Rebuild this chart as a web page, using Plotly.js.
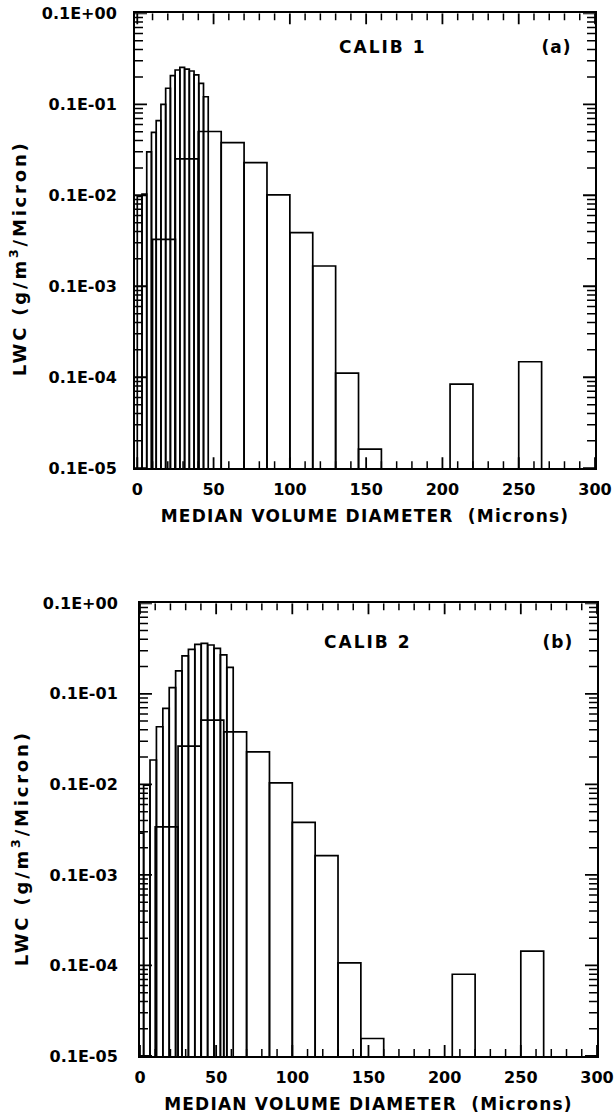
<!DOCTYPE html>
<html>
<head>
<meta charset="utf-8">
<script src="https://cdn.plot.ly/plotly-3.0.1.min.js"></script>
<style>html,body{margin:0;padding:0;background:#fff;}#chart{width:615px;height:1117px;}</style>
</head>
<body>
<div id="chart"></div>
<script>
// ---- data (median volume diameter in microns, LWC per micron) ----
// CALIB 1, fine-resolution bins
const calib1FineX = [1.55, 4.65, 7.75, 10.85, 13.95, 17.05, 20.15, 23.25, 26.35, 29.45, 32.55, 35.65, 38.75, 41.85, 44.95];
const calib1FineW = [3.1, 3.1, 3.1, 3.1, 3.1, 3.1, 3.1, 3.1, 3.1, 3.1, 3.1, 3.1, 3.1, 3.1, 3.1];
const calib1FineY = [9.7e-4, 1.03e-3, 3.0e-3, 4.9e-3, 6.6e-3, 1.0e-2, 1.5e-2, 2.06e-2, 2.38e-2, 2.55e-2, 2.44e-2, 2.32e-2, 2.1e-2, 1.7e-2, 1.21e-2];
// coarse bins (same bin layout in both panels)
const coarseX = [17.5, 32.5, 47.5, 62.5, 77.5, 92.5, 107.5, 122.5, 137.5, 152.5, 212.5, 257.5];
const coarseW = [15, 15, 15, 15, 15, 15, 15, 15, 15, 15, 15, 15];
const calib1CoarseY = [3.28e-4, 2.51e-3, 5.02e-3, 3.79e-3, 2.28e-3, 1.01e-3, 3.88e-4, 1.67e-4, 1.11e-5, 1.62e-6, 8.4e-6, 1.48e-5];
// CALIB 2, fine-resolution bins
const calib2FineX = [0.3, 4.5, 8.7, 12.9, 17.1, 21.3, 25.5, 29.7, 33.9, 38.1, 42.3, 46.5, 50.7, 54.9, 59.1];
const calib2FineW = [4.2, 4.2, 4.2, 4.2, 4.2, 4.2, 4.2, 4.2, 4.2, 4.2, 4.2, 4.2, 4.2, 4.2, 4.2];
const calib2FineY = [2.9e-4, 9.8e-4, 1.86e-3, 4.33e-3, 6.91e-3, 1.17e-2, 1.79e-2, 2.62e-2, 3.10e-2, 3.52e-2, 3.61e-2, 3.46e-2, 3.18e-2, 2.69e-2, 1.96e-2];
// CALIB 2, coarse bins
const calib2CoarseY = [3.40e-4, 2.65e-3, 5.13e-3, 3.81e-3, 2.29e-3, 1.04e-3, 3.80e-4, 1.63e-4, 1.07e-5, 1.56e-6, 8.0e-6, 1.44e-5];

// axis tick labels
const yTickVals = [1e-6, 1e-5, 1e-4, 1e-3, 1e-2, 1e-1];
const yTickText = ['0.1E-05', '0.1E-04', '0.1E-03', '0.1E-02', '0.1E-01', '0.1E+00'];
const xTickVals = [0, 50, 100, 150, 200, 250, 300];
const xTickText = ['0', '50', '100', '150', '200', '250', '300'];
const xMinorStep = 10;
const panelTitles = ['CALIB 1', 'CALIB 2'];
const panelTags = ['(a)', '(b)'];
const xTitle = 'MEDIAN VOLUME DIAMETER  (Microns)';
const yTitle = 'LWC (g/m<sup>3</sup>/Micron)';

const W = 615, H = 1117;
const FONT = 'DejaVu Sans, sans-serif';
const panels = [
  {xa: 'x', ya: 'y', xdom: [0.2195, 0.9675], ydom: [0.5808, 0.9881], xrange: [-1.5, 300], yrange: [-6, -1], so: 13},
  {xa: 'x2', ya: 'y2', xdom: [0.2276, 0.9707], ydom: [0.0546, 0.4599], xrange: [0, 300], yrange: [-6, -1], so: 17}
];

const outline = {color: '#000', width: 1.7};
function bars(x, w, y, xa, ya) {
  return {type: 'bar', x: x, width: w, y: y, xaxis: xa, yaxis: ya,
    marker: {color: 'rgba(0,0,0,0)', line: outline}, hoverinfo: 'skip', showlegend: false};
}
const data = [
  bars(calib1FineX, calib1FineW, calib1FineY, 'x', 'y'),
  bars(coarseX, coarseW, calib1CoarseY, 'x', 'y'),
  bars(calib2FineX, calib2FineW, calib2FineY, 'x2', 'y2'),
  bars(coarseX, coarseW, calib2CoarseY, 'x2', 'y2')
];

// inward tick marks on all four sides, drawn as line traces on the axes' own scales
function tickTraces(p) {
  const pxW = (p.xdom[1] - p.xdom[0]) * W, pxH = (p.ydom[1] - p.ydom[0]) * H;
  const ux = (p.xrange[1] - p.xrange[0]) / pxW;      // x units per pixel
  const uy = (p.yrange[1] - p.yrange[0]) / pxH;      // log10 decades per pixel
  const ylo = p.yrange[0], yhi = p.yrange[1], xlo = p.xrange[0], xhi = p.xrange[1];
  const major = {x: [], y: []}, minor = {x: [], y: []};
  function seg(t, x0, y0, x1, y1) { t.x.push(x0, x1, null); t.y.push(Math.pow(10, y0), Math.pow(10, y1), null); }
  function xt(t, v, len) {
    seg(t, v, ylo, v, ylo + len * uy);
    seg(t, v, yhi, v, yhi - len * uy);
  }
  function yt(t, lv, len) {
    seg(t, xlo, lv, xlo + len * ux, lv);
    seg(t, xhi, lv, xhi - len * ux, lv);
  }
  xTickVals.forEach(v => xt(major, v, 11));
  for (let v = xMinorStep; v < xhi; v += xMinorStep) if (xTickVals.indexOf(v) < 0) xt(minor, v, 7);
  yTickVals.forEach(v => {
    const d = Math.log10(v);
    yt(major, d, 12);
    if (d < yhi) for (let k = 2; k <= 9; k++) yt(minor, d + Math.log10(k), 8);
  });
  const mk = (t, w) => ({type: 'scatter', mode: 'lines', x: t.x, y: t.y, xaxis: p.xa, yaxis: p.ya,
    line: {color: '#000', width: w}, connectgaps: false, cliponaxis: false, hoverinfo: 'skip', showlegend: false});
  return [mk(major, 1.8), mk(minor, 1.5)];
}
panels.forEach(p => tickTraces(p).forEach(t => data.push(t)));

function xAxis(p) {
  return {domain: p.xdom, anchor: p.ya, range: p.xrange, type: 'linear',
    tickmode: 'array', tickvals: xTickVals, ticktext: xTickText, ticks: '',
    showline: true, linecolor: '#000', linewidth: 2, mirror: true,
    showgrid: false, zeroline: false, ticklabelstandoff: 6,
    tickfont: {family: FONT, size: 16, color: '#000', weight: 'bold'},
    title: {text: xTitle, standoff: 12, font: {family: FONT, size: 17, color: '#000', weight: 'bold'}}};
}
function yAxis(p) {
  return {domain: p.ydom, anchor: p.xa, type: 'log', range: p.yrange,
    tickmode: 'array', tickvals: yTickVals, ticktext: yTickText, ticks: '',
    showline: true, linecolor: '#000', linewidth: 2, mirror: true,
    showgrid: false, zeroline: false, ticklabelstandoff: p.so,
    tickfont: {family: FONT, size: 16, color: '#000', weight: 'bold'}};
}

const annFont = {family: FONT, size: 17, color: '#000', weight: 'bold'};
const yTitleFont = {family: FONT, size: 18, color: '#000', weight: 'bold'};
const layout = {
  width: W, height: H,
  margin: {l: 0, r: 0, t: 0, b: 0},
  paper_bgcolor: '#fff', plot_bgcolor: '#fff',
  barmode: 'overlay', bargap: 0, showlegend: false,
  xaxis: xAxis(panels[0]), yaxis: yAxis(panels[0]),
  xaxis2: xAxis(panels[1]), yaxis2: yAxis(panels[1]),
  annotations: [
    {xref: 'x domain', yref: 'y domain', x: 0.54, y: 0.925, xanchor: 'center', yanchor: 'middle',
     text: panelTitles[0], showarrow: false, font: annFont},
    {xref: 'x domain', yref: 'y domain', x: 0.917, y: 0.925, xanchor: 'center', yanchor: 'middle',
     text: panelTags[0], showarrow: false, font: annFont},
    {xref: 'x2 domain', yref: 'y2 domain', x: 0.498, y: 0.915, xanchor: 'center', yanchor: 'middle',
     text: panelTitles[1], showarrow: false, font: annFont},
    {xref: 'x2 domain', yref: 'y2 domain', x: 0.914, y: 0.915, xanchor: 'center', yanchor: 'middle',
     text: panelTags[1], showarrow: false, font: annFont},
    {xref: 'paper', yref: 'paper', x: 0.030, y: 0.769, xanchor: 'center', yanchor: 'middle', textangle: -90,
     text: yTitle, showarrow: false, font: yTitleFont},
    {xref: 'paper', yref: 'paper', x: 0.034, y: 0.2404, xanchor: 'center', yanchor: 'middle', textangle: -90,
     text: yTitle, showarrow: false, font: yTitleFont}
  ]
};
Plotly.newPlot('chart', data, layout, {displayModeBar: false, staticPlot: true}).then(function () {
  // widen the lettering to match the plotter font of the original
  document.querySelectorAll('.annotation-text').forEach(function (t) {
    const s = t.textContent;
    if (s.indexOf('LWC') === 0) t.style.letterSpacing = '2.8px';
    else if (s.indexOf('CALIB') === 0) t.style.letterSpacing = '2px';
    else t.style.letterSpacing = '1px';
  });
  document.querySelectorAll('.xtitle, .x2title').forEach(function (t) { t.style.letterSpacing = '1.2px'; });
});
</script>
</body>
</html>
